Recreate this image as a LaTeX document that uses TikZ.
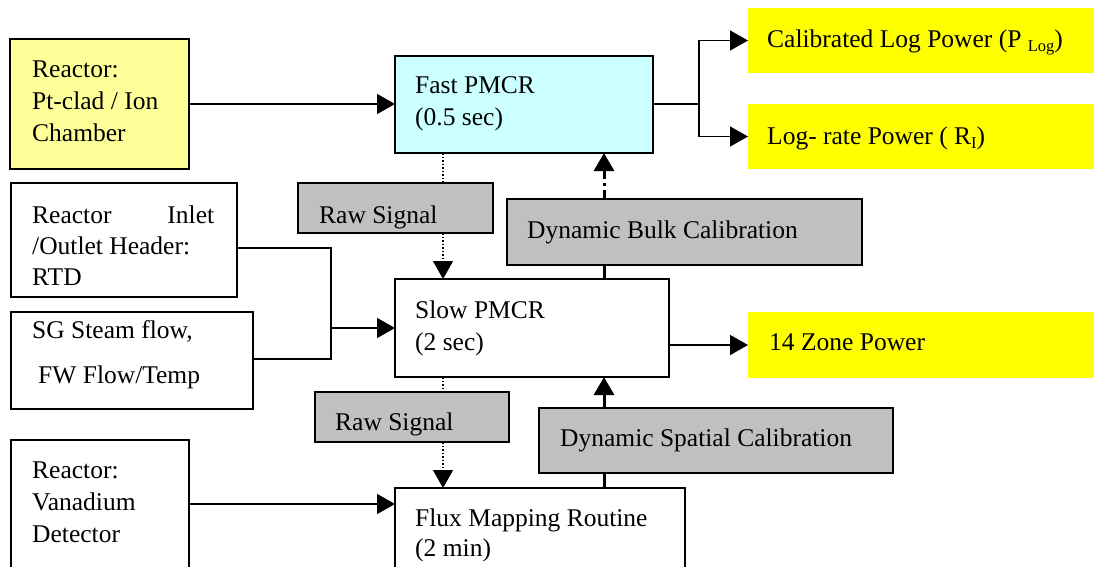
\documentclass[tikz,border=0pt]{standalone}
\usepackage{fontspec}
\setmainfont{Liberation Serif}
\usetikzlibrary{arrows.meta}
\definecolor{lightyel}{HTML}{FFFF99}
\definecolor{lightcy}{HTML}{CCFFFF}
\definecolor{boxgray}{HTML}{C0C0C0}
\definecolor{brightyel}{HTML}{FFFF00}
\newcommand{\subtxt}[2]{\raisebox{#1}{\fontsize{16.5}{17}\selectfont #2}}
\begin{document}
\begin{tikzpicture}[x=1pt,y=-1pt,
  box/.style={draw=black,line width=1.5pt,inner sep=0pt,outer sep=0pt,anchor=north west},
  ybox/.style={fill=brightyel,inner sep=0pt,outer sep=0pt,anchor=north west},
  txt/.style={inner sep=0pt,anchor=base west,font=\fontsize{25.5}{31}\selectfont},
  conn/.style={line width=1.6pt},
  arr/.style={line width=1.6pt,-{Triangle[length=18pt,width=20pt]}},
  thk/.style={line width=3pt},
  thkarr/.style={line width=3pt,-{Triangle[length=18pt,width=20pt]}},
  dotline/.style={line width=1.3pt,dash pattern=on 1.5pt off 2pt},
  dashdotline/.style={line width=3pt,dash pattern=on 9pt off 4pt on 3pt off 4pt}]
\useasboundingbox (0,0) rectangle (1094,567);
\clip (0,0) rectangle (1094,567);
\fill[white] (0,0) rectangle (1094,567);

% boxes
\node[box,fill=lightyel,minimum width=179pt,minimum height=130pt] (pt) at (10,39) {};
\node[box,fill=lightcy,minimum width=258pt,minimum height=97pt] (fast) at (395,56) {};
\node[ybox,minimum width=360pt,minimum height=65pt] (cal) at (748,8) {};
\node[ybox,minimum width=360pt,minimum height=65pt] (lrate) at (748,104) {};
\node[box,fill=white,minimum width=226pt,minimum height=114pt] (inlet) at (11,183) {};
\node[box,fill=boxgray,minimum width=195pt,minimum height=50pt] (raw1) at (298,183) {};
\node[box,fill=boxgray,minimum width=355pt,minimum height=66pt] (bulk) at (507,199) {};
\node[box,fill=white,minimum width=274pt,minimum height=98pt] (slow) at (395,279) {};
\node[ybox,minimum width=360pt,minimum height=66pt] (zone) at (748,312) {};
\node[box,fill=white,minimum width=242pt,minimum height=97pt] (sg) at (11,312) {};
\node[box,fill=boxgray,minimum width=194pt,minimum height=50pt] (raw2) at (315,392) {};
\node[box,fill=boxgray,minimum width=354pt,minimum height=65pt] (spat) at (539,408) {};
\node[box,fill=white,minimum width=178pt,minimum height=160pt] (van) at (11,440) {};
\node[box,fill=white,minimum width=290pt,minimum height=120pt] (flux) at (395,488) {};

% texts
\node[txt] (t1a) at (32,78) {Reactor:};
\node[txt] (t1b) at (32,110) {Pt-clad / Ion};
\node[txt] (t1c) at (32,142) {Chamber};
\node[txt] (t2a) at (415,94) {Fast PMCR};
\node[txt] (t2b) at (415,125) {(0.5 sec)};
\node[txt] (t3) at (767,48) {Calibrated Log Power (P \subtxt{-4pt}{Log})};
\node[txt] (t4) at (767,144) {Log- rate Power ( R\subtxt{-4pt}{I})};
\node[txt] (t5a) at (32,223) {\makebox[182pt][s]{Reactor\hfill Inlet}};
\node[txt] (t5b) at (32,254) {/Outlet Header:};
\node[txt] (t5c) at (32,285) {RTD};
\node[txt] (t6) at (319,223) {Raw Signal};
\node[txt] (t7) at (527,238) {Dynamic Bulk Calibration};
\node[txt] (t8a) at (415,318) {Slow PMCR};
\node[txt] (t8b) at (415,350) {(2 sec)};
\node[txt] (t9) at (769,350) {14 Zone Power};
\node[txt] (t10a) at (32,338) {SG Steam flow,};
\node[txt] (t10b) at (38,383) {FW Flow/Temp};
\node[txt] (t11) at (335,430) {Raw Signal};
\node[txt] (t12) at (560,446) {Dynamic Spatial Calibration};
\node[txt] (t13a) at (32,478) {Reactor:};
\node[txt] (t13b) at (32,510) {Vanadium};
\node[txt] (t13c) at (32,542) {Detector};
\node[txt] (t14a) at (415,526) {Flux Mapping Routine};
\node[txt] (t14b) at (415,556) {(2 min)};

% helper coordinates
\coordinate (xa) at (443,0);
\coordinate (xb) at (604,0);
\coordinate (j1) at (699,104);
\coordinate (j2) at (331,328);
\coordinate (y248) at (0,248);
\coordinate (y359) at (0,359);
\coordinate (y504) at (0,504);

% connectors
\draw[arr] (pt.east) -- (pt.east -| fast.west);
\draw[conn] (fast.east |- j1) -- (j1);
\draw[arr] (j1) |- (cal.west);
\draw[arr] (j1) |- (lrate.west);
\draw[conn] (inlet.east |- y248) -| (j2);
\draw[conn] (sg.east |- y359) -| (j2);
\draw[arr] (j2) -- (j2 -| slow.west);
\draw[arr] (slow.east |- zone.west) -- (zone.west);
\draw[arr] (van.east |- y504) -- (flux.west |- y504);

\draw[dotline] (fast.south -| xa) -- (raw1.north -| xa);
\draw[dotline,-{Triangle[length=18pt,width=20pt]}] (raw1.south -| xa) -- (slow.north -| xa);
\draw[dotline] (slow.south -| xa) -- (raw2.north -| xa);
\draw[dotline,-{Triangle[length=18pt,width=20pt]}] (raw2.south -| xa) -- (flux.north -| xa);

\draw[thk] (slow.north -| xb) -- (bulk.south -| xb);
\draw[dashdotline,-{Triangle[length=18pt,width=20pt]}] (bulk.north -| xb) -- (fast.south -| xb);
\draw[thk] (flux.north -| xb) -- (spat.south -| xb);
\draw[thkarr] (spat.north -| xb) -- (slow.south -| xb);
\end{tikzpicture}
\end{document}
